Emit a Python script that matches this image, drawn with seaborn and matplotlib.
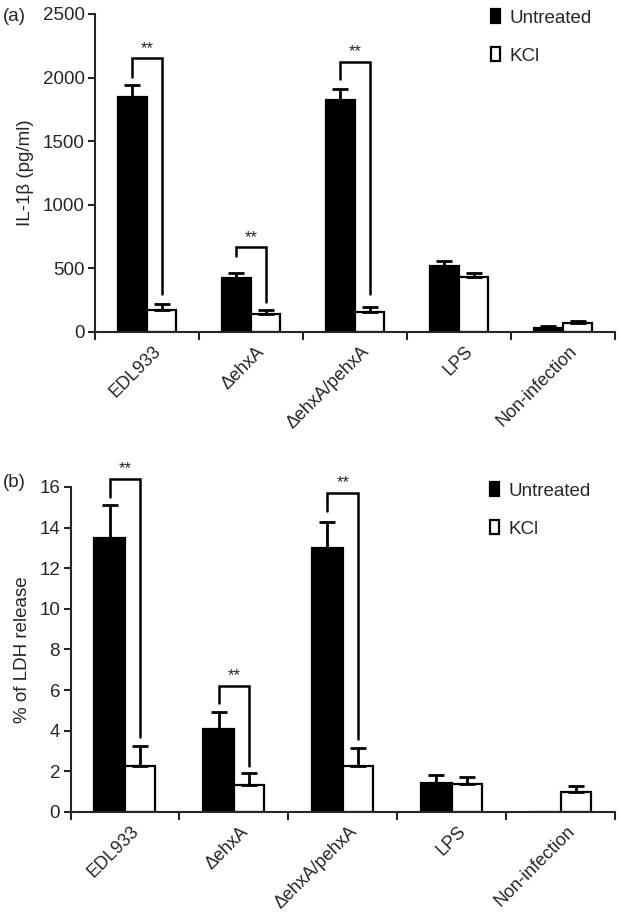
import numpy as np
import pandas as pd
import matplotlib
matplotlib.use("Agg")
import matplotlib.pyplot as plt
import seaborn as sns

# ---------------- data ----------------
categories = ["EDL933", "\u0394ehxA", "\u0394ehxA/pehxA", "LPS", "Non-infection"]
treatments = ["Untreated", "KCl"]

il1b_untreated = [1845, 425, 1822, 519, 31]
il1b_kcl = [170, 142, 155, 435, 71]
il1b_err_untreated = [95, 37, 90, 42, 14]
il1b_err_kcl = [53, 28, 42, 29, 13]

ldh_untreated = [13.5, 4.1, 13.0, 1.45, 0.0]
ldh_kcl = [2.25, 1.35, 2.25, 1.38, 1.0]
ldh_err_untreated = [1.6, 0.82, 1.3, 0.38, 0.0]
ldh_err_kcl = [1.0, 0.55, 0.9, 0.35, 0.28]

# significance brackets: category index, top level, left-leg bottom, right-leg bottom
il1b_sig_idx = [0, 1, 2]
il1b_sig_top = [2150, 665, 2125]
il1b_sig_left = [2005, 595, 1990]
il1b_sig_right = [300, 235, 295]

ldh_sig_idx = [0, 1, 2]
ldh_sig_top = [16.4, 6.2, 15.7]
ldh_sig_left = [15.5, 5.35, 14.8]
ldh_sig_right = [3.7, 2.25, 3.6]

# ---------------- style ----------------
sns.set_theme(style="ticks")
plt.rcParams["font.family"] = ["Liberation Sans", "DejaVu Sans"]
plt.rcParams["axes.linewidth"] = 1.5
FS = 13.5
XFS = 13

fig = plt.figure(figsize=(6.19, 9.14), dpi=100)
ax1 = fig.add_axes([0.1535, 0.6368, 0.840, 0.348])
ax2 = fig.add_axes([0.1139, 0.1116, 0.8796, 0.3556])


def panel(ax, unt, kcl, eu, ek, sig_idx, sig_top, sig_left, sig_right,
          ylim, yticks, ylabel, leg_anchor):
    df = pd.DataFrame({
        "Group": categories * 2,
        "Treatment": ["Untreated"] * len(categories) + ["KCl"] * len(categories),
        "Value": list(unt) + list(kcl),
    })
    sns.barplot(data=df, x="Group", y="Value", hue="Treatment",
                order=categories, hue_order=treatments,
                palette={"Untreated": "black", "KCl": "white"},
                edgecolor="black", linewidth=1.6, width=0.56,
                errorbar=None, ax=ax, legend=False, saturation=1)
    conts = ax.containers[:2]
    centers = []
    for cont, vals, errs in zip(conts, [unt, kcl], [eu, ek]):
        xs = np.array([p.get_x() + p.get_width() / 2 for p in cont.patches])
        centers.append(xs)
        v = np.array(vals, dtype=float)
        e = np.array(errs, dtype=float)
        m = e > 0
        ax.errorbar(xs[m], v[m], yerr=[np.zeros(m.sum()), e[m]], fmt="none",
                    ecolor="black", elinewidth=2, capsize=5.5, capthick=2,
                    zorder=3)
    # brackets
    for i, t, l, r in zip(sig_idx, sig_top, sig_left, sig_right):
        xl = centers[0][i]
        xr = centers[1][i]
        ax.plot([xl, xl, xr, xr], [l, t, t, r], color="black", lw=1.8,
                solid_joinstyle="miter", zorder=4, clip_on=False)
        ax.text((xl + xr) / 2, t + (ylim[1] - ylim[0]) * 0.008, "**",
                ha="center", va="bottom", fontsize=12, clip_on=False)
    ax.set_xlim(-0.5, len(categories) - 0.5)
    ax.set_ylim(*ylim)
    ax.set_yticks(yticks)
    ax.set_yticklabels([str(t) for t in yticks], fontsize=FS)
    # label anchors slightly right of group centres (as in the reference)
    ax.set_xticks(np.arange(len(categories)) + 0.05)
    ax.set_xticklabels(categories, rotation=45, ha="right",
                       rotation_mode="anchor", fontsize=XFS)
    ax.set_xticks(np.arange(-0.5, len(categories), 1.0), minor=True)
    ax.tick_params(axis="x", which="major", length=0, pad=8)
    ax.tick_params(axis="x", which="minor", length=6, width=1.5, direction="out")
    ax.tick_params(axis="y", length=5, width=1.5, direction="out", pad=2.5)
    ax.set_xlabel("")
    ax.set_ylabel(ylabel, fontsize=FS, labelpad=6)
    sns.despine(ax=ax, top=True, right=True)
    for s in ["left", "bottom"]:
        ax.spines[s].set_linewidth(1.5)
    handles = [conts[0].patches[0], conts[1].patches[0]]
    ax.legend(handles, ["Untreated", "KCl"], loc="upper left",
              bbox_to_anchor=leg_anchor, frameon=False, borderpad=0,
              borderaxespad=0, handlelength=0.5, handleheight=0.75,
              handletextpad=0.5, labelspacing=1.1, fontsize=FS)


panel(ax1, il1b_untreated, il1b_kcl, il1b_err_untreated, il1b_err_kcl,
      il1b_sig_idx, il1b_sig_top, il1b_sig_left, il1b_sig_right,
      (0, 2500), [0, 500, 1000, 1500, 2000, 2500], "IL-1\u03b2 (pg/ml)",
      (0.7615, 1.015))
panel(ax2, ldh_untreated, ldh_kcl, ldh_err_untreated, ldh_err_kcl,
      ldh_sig_idx, ldh_sig_top, ldh_sig_left, ldh_sig_right,
      (0, 16), [0, 2, 4, 6, 8, 10, 12, 14, 16], "% of LDH release",
      (0.770, 1.015))

fig.text(0.005, 0.991, "(a)", fontsize=FS, ha="left", va="top")
fig.text(0.005, 0.481, "(b)", fontsize=FS, ha="left", va="top")

fig.savefig("out.png", dpi=100)
